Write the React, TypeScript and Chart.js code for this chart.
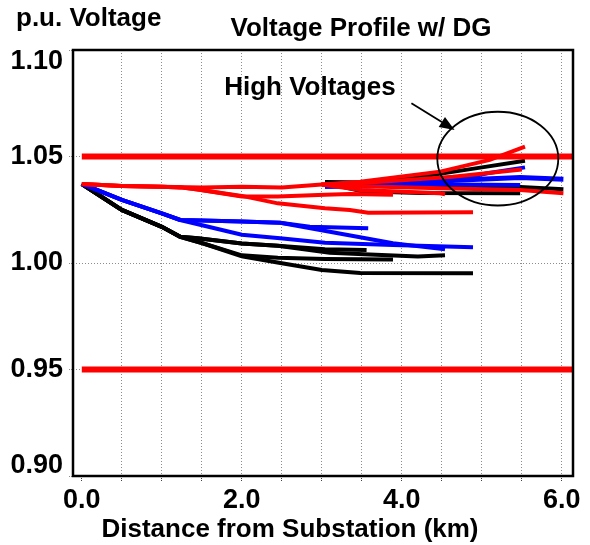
import React, { useEffect, useRef } from "react";
import { Chart, registerables } from "chart.js";

Chart.register(...registerables);

type P = [number, number];

const FONT = "'Liberation Sans', Arial, sans-serif";

// ---- text ----
const chartTitle = "Voltage Profile w/ DG";
const yAxisCaption = "p.u. Voltage";
const xAxisTitle = "Distance from Substation (km)";
const calloutText = "High Voltages";

// ---- axes ----
const xMin = -0.11;
const xMax = 6.14;
const yMin = 0.9;
const yMax = 1.1;
const xTickValues = [0, 0.5, 1, 1.5, 2, 2.5, 3, 3.5, 4, 4.5, 5, 5.5, 6];
const xLabeledTicks = [0, 2, 4, 6];
const yTickValues = [0.9, 0.95, 1.0, 1.05, 1.1];
const yTickLabels = ["0.90", "0.95", "1.00", "1.05", "1.10"];

// ---- voltage limits ----
const limitX = [0, 6.14];
const upperLimit = 1.05;
const lowerLimit = 0.95;

// ---- red feeder branches (km, p.u.) ----
const red1: P[] = [[0, 1.0371], [0.5, 1.0362], [1.0, 1.0358], [1.5, 1.0354], [2.0, 1.0358], [2.5, 1.0354], [3.0, 1.0368], [3.48, 1.0382], [4.48, 1.0429], [5.1, 1.0484], [5.54, 1.0546]];
const red2: P[] = [[0, 1.0371], [0.5, 1.0362], [1.0, 1.0358], [1.23, 1.0355], [1.45, 1.0345], [2.0, 1.0312], [2.45, 1.0312], [3.04, 1.032], [3.35, 1.0324], [3.89, 1.032]];
const red3: P[] = [[0, 1.0371], [0.5, 1.0362], [1.0, 1.0358], [1.23, 1.0355], [1.45, 1.0345], [2.0, 1.0315], [2.45, 1.028], [3.04, 1.0257], [3.35, 1.0249], [3.58, 1.0236], [4.89, 1.0238]];
const red4: P[] = [[3.0, 1.0368], [3.5, 1.0375], [4.64, 1.0405], [5.5, 1.0439]];
const red5: P[] = [[3.0, 1.0368], [3.5, 1.036], [4.48, 1.0351], [5.48, 1.0343], [6.02, 1.0327]];
const red6: P[] = [[3.0, 1.0368], [3.48, 1.0343], [4.48, 1.0327], [4.54, 1.0323]];

// ---- blue feeder branches ----
const blue1: P[] = [[0, 1.0371], [0.5, 1.0296], [1.0, 1.0233], [1.23, 1.0202], [1.5, 1.0199], [2.0, 1.0195], [2.48, 1.0189], [2.85, 1.017], [3.58, 1.0163]];
const blue2: P[] = [[0, 1.0371], [0.5, 1.0296], [1.0, 1.0233], [1.23, 1.0202], [1.5, 1.0199], [2.0, 1.0195], [2.48, 1.0189], [3.1, 1.0147], [3.89, 1.0093], [4.54, 1.0064]];
const blue3: P[] = [[0, 1.0371], [0.5, 1.0296], [1.0, 1.0233], [1.23, 1.0202], [2.0, 1.0133], [2.48, 1.0116], [3.04, 1.0095], [3.89, 1.0085], [4.89, 1.0074]];
const blue4: P[] = [[3.04, 1.0358], [4.48, 1.0374], [5.07, 1.0421], [5.54, 1.0449]];
const blue5: P[] = [[3.04, 1.036], [3.6, 1.0362], [4.23, 1.0382], [5.48, 1.0401], [6.02, 1.0393]];
const blue6: P[] = [[3.6, 1.0362], [4.23, 1.037], [5.48, 1.0366]];

// ---- black feeder branches ----
const black1: P[] = [[0, 1.0371], [0.5, 1.0249], [1.0, 1.017], [1.23, 1.0123], [1.45, 1.0116], [2.0, 1.0092], [2.45, 1.0081], [3.04, 1.0065], [3.56, 1.0061]];
const black2: P[] = [[0, 1.0371], [0.5, 1.0249], [1.0, 1.017], [1.23, 1.0123], [1.45, 1.0116], [2.0, 1.0092], [2.45, 1.0081], [3.1, 1.0048], [3.6, 1.004], [4.2, 1.003], [4.54, 1.0036]];
const black3: P[] = [[0, 1.0371], [0.5, 1.0249], [1.0, 1.017], [1.23, 1.0123], [1.5, 1.0094], [2.0, 1.0036], [2.45, 1.0025], [3.04, 1.0019], [3.89, 1.0017]];
const black4: P[] = [[0, 1.0371], [0.5, 1.0249], [1.0, 1.017], [1.23, 1.0123], [1.5, 1.0094], [2.0, 1.0032], [2.5, 0.9999], [3.0, 0.9967], [3.48, 0.9953], [4.89, 0.9952]];
const black5: P[] = [[3.04, 1.038], [3.6, 1.0378], [4.23, 1.0405], [4.9, 1.0443], [5.54, 1.048]];
const black6: P[] = [[3.04, 1.0376], [4.5, 1.0355], [5.48, 1.0357], [6.02, 1.0346]];
const black7: P[] = [[3.04, 1.0376], [3.5, 1.0337], [4.23, 1.0329], [5.48, 1.0327]];

const redSeries = [red1, red2, red3, red4, red5, red6];
const blueSeries = [blue1, blue2, blue3, blue4, blue5, blue6];
const blackSeries = [black1, black2, black3, black4, black5, black6, black7];

// ---- annotation (data units) ----
const calloutAt: P = [1.78, 1.079];
const arrowFrom: P = [4.12, 1.075];
const arrowTo: P = [4.66, 1.0625];
const ellipseCenter: P = [5.2, 1.049];
const ellipseRadii: P = [0.756, 0.022];

const RED = "#ff0000";
const BLUE = "#0000ff";
const BLACK = "#000000";
const GRID = "#8c8c8c";

function lineDs(pts: P[], color: string, width: number) {
  return {
    data: pts.map(([x, y]) => ({ x, y })),
    borderColor: color,
    backgroundColor: color,
    borderWidth: width,
    pointRadius: 0,
    pointHoverRadius: 0,
    fill: false,
    tension: 0,
  };
}

const decor = {
  id: "decor",
  afterDraw(chart: any) {
    const { ctx, chartArea: a, scales } = chart;
    const xs = scales.x;
    const ys = scales.y;
    ctx.save();
    // frame
    ctx.strokeStyle = BLACK;
    ctx.lineWidth = 2.5;
    ctx.strokeRect(a.left, a.top, a.right - a.left, a.bottom - a.top);

    // y tick labels, kept inside the frame height
    ctx.fillStyle = BLACK;
    ctx.font = `bold 27px ${FONT}`;
    ctx.textAlign = "right";
    ctx.textBaseline = "middle";
    yTickValues.forEach((v, i) => {
      let py = ys.getPixelForValue(v);
      py = Math.min(Math.max(py, a.top + 12), a.bottom - 10);
      ctx.fillText(yTickLabels[i], a.left - 10, py);
    });

    // captions
    ctx.font = `bold 26px ${FONT}`;
    ctx.textBaseline = "alphabetic";
    ctx.textAlign = "left";
    ctx.fillText(yAxisCaption, 16, 26);
    ctx.textAlign = "center";
    ctx.fillText(chartTitle, 361, 36);
    ctx.fillText(xAxisTitle, 290, 537);

    // callout text
    ctx.textAlign = "left";
    ctx.fillText(calloutText, xs.getPixelForValue(calloutAt[0]), ys.getPixelForValue(calloutAt[1]));

    // ellipse
    const ex = xs.getPixelForValue(ellipseCenter[0]);
    const ey = ys.getPixelForValue(ellipseCenter[1]);
    const rx = Math.abs(xs.getPixelForValue(ellipseCenter[0] + ellipseRadii[0]) - ex);
    const ry = Math.abs(ys.getPixelForValue(ellipseCenter[1] + ellipseRadii[1]) - ey);
    ctx.lineWidth = 1.8;
    ctx.beginPath();
    ctx.ellipse(ex, ey, rx, ry, 0, 0, Math.PI * 2);
    ctx.stroke();

    // arrow
    const x0 = xs.getPixelForValue(arrowFrom[0]);
    const y0 = ys.getPixelForValue(arrowFrom[1]);
    const x1 = xs.getPixelForValue(arrowTo[0]);
    const y1 = ys.getPixelForValue(arrowTo[1]);
    const len = Math.hypot(x1 - x0, y1 - y0);
    const ux = (x1 - x0) / len;
    const uy = (y1 - y0) / len;
    const head = 15;
    const half = 6;
    ctx.lineWidth = 1.8;
    ctx.beginPath();
    ctx.moveTo(x0, y0);
    ctx.lineTo(x1 - ux * head, y1 - uy * head);
    ctx.stroke();
    ctx.beginPath();
    ctx.moveTo(x1, y1);
    ctx.lineTo(x1 - ux * head - uy * half, y1 - uy * head + ux * half);
    ctx.lineTo(x1 - ux * head + uy * half, y1 - uy * head - ux * half);
    ctx.closePath();
    ctx.fill();
    ctx.restore();
  },
};

export default function App() {
  const ref = useRef<HTMLCanvasElement | null>(null);

  useEffect(() => {
    if (!ref.current) return;
    const datasets: any[] = [
      lineDs([[limitX[0], upperLimit], [limitX[1], upperLimit]], RED, 6),
      lineDs([[limitX[0], lowerLimit], [limitX[1], lowerLimit]], RED, 6),
      ...redSeries.map((s) => lineDs(s, RED, 4)),
      ...blueSeries.map((s) => lineDs(s, BLUE, s === blue5 ? 5 : 4)),
      ...blackSeries.map((s) => lineDs(s, BLACK, 4)),
    ];
    const chart = new Chart(ref.current, {
      type: "line",
      data: { datasets },
      plugins: [decor],
      options: {
        responsive: false,
        animation: false,
        events: [],
        layout: { padding: { top: 50, right: 17, left: 0, bottom: 0 } },
        plugins: { legend: { display: false }, tooltip: { enabled: false }, title: { display: false } },
        scales: {
          x: {
            type: "linear",
            min: xMin,
            max: xMax,
            afterBuildTicks: (s: any) => {
              s.ticks = xTickValues.map((v) => ({ value: v }));
            },
            afterFit: (s: any) => {
              s.height = 69;
            },
            border: { display: false, dash: [1, 2] },
            grid: {
              color: (c: any) => (c.tick && c.tick.value === 0 ? "rgba(0,0,0,0)" : GRID),
              lineWidth: 1,
              tickBorderDash: [1, 1],
              tickColor: "#444",
              tickLength: 6,
              drawTicks: true,
            },
            ticks: {
              autoSkip: false,
              maxRotation: 0,
              padding: 2,
              color: BLACK,
              font: { family: FONT, size: 27, weight: "bold" },
              callback: (v: any) => (xLabeledTicks.includes(Number(v)) ? Number(v).toFixed(1) : ""),
            },
            title: { display: false },
          },
          y: {
            type: "linear",
            min: yMin,
            max: yMax,
            afterBuildTicks: (s: any) => {
              s.ticks = yTickValues.map((v) => ({ value: v }));
            },
            afterFit: (s: any) => {
              s.width = 73;
            },
            border: { display: false, dash: [1, 2] },
            grid: {
              color: (c: any) =>
                c.tick && (Math.abs(c.tick.value - yMin) < 1e-6 || Math.abs(c.tick.value - yMax) < 1e-6)
                  ? "rgba(0,0,0,0)"
                  : GRID,
              lineWidth: 1,
              tickBorderDash: [1, 1],
              tickColor: GRID,
              tickLength: 4,
            },
            ticks: { display: false },
          },
        },
      } as any,
    });
    return () => chart.destroy();
  }, []);

  return (
    <div style={{ position: "fixed", left: 0, top: 0, width: 590, height: 545, background: "#fff" }}>
      <canvas ref={ref} width={590} height={545} />
    </div>
  );
}
